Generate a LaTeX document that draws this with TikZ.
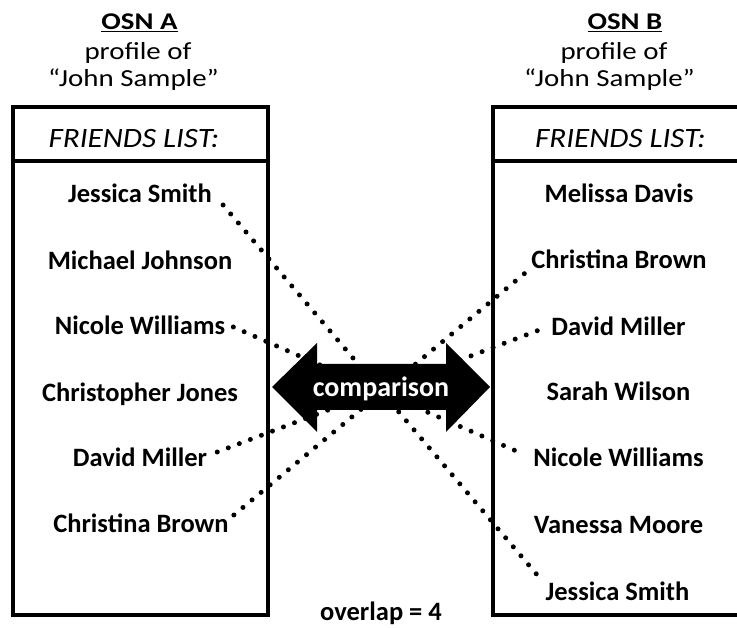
\documentclass[tikz,border=0pt]{standalone}
\usepackage{fontspec}
\usepackage{graphicx}
\setmainfont{Carlito}
\newcommand{\hstretch}[2]{\scalebox{#1}[1]{#2}}
\begin{document}
\begin{tikzpicture}[x=1pt,y=-1pt,
  nm/.style={font=\fontsize{26.5}{30}\selectfont\bfseries, inner sep=0pt, anchor=base},
  hd/.style={font=\fontsize{24.5}{28}\selectfont, inner sep=0pt, anchor=base},
  osn/.style={font=\fontsize{24}{28}\selectfont\bfseries, inner sep=0pt, anchor=base},
  fl/.style={font=\fontsize{28}{32}\selectfont\itshape, inner sep=0pt, anchor=base},
  frame/.style={line width=3.5pt},
  dots/.style={line width=5pt, line cap=round, dash pattern=on 0pt off 11.8pt}]
\useasboundingbox (0,0) rectangle (737,628);
\clip (0,0) rectangle (737,628);
% boxes
\draw[frame] (13,107) rectangle (268,615);
\draw[frame] (13,161) -- (268,161);
\draw[frame] (493,107) rectangle (746,615);
\draw[frame] (493,161) -- (746,161);
% headings
\node[osn] (ta) at (139.5,30) {\hstretch{1.2}{\underline{OSN A}}};
\node[hd] (pa) at (138,60) {\hstretch{1.18}{profile of}};
\node[hd] (ja) at (133.5,87) {\hstretch{1.18}{“John Sample”}};
\node[osn] (tb) at (625,30) {\hstretch{1.2}{\underline{OSN B}}};
\node[hd] (pb) at (614,60) {\hstretch{1.18}{profile of}};
\node[hd] (jb) at (609.5,87) {\hstretch{1.18}{“John Sample”}};
\node[fl] (fa) at (134,148) {\hstretch{1.11}{FRIENDS LIST:}};
\node[fl] (fb) at (620.5,148) {\hstretch{1.11}{FRIENDS LIST:}};
% left names
\node[nm] (lJS) at (140,203) {Jessica Smith};
\node[nm] (lMJ) at (140,270) {Michael Johnson};
\node[nm] (lNW) at (140,335) {Nicole Williams};
\node[nm] (lCJ) at (140,402) {Christopher Jones};
\node[nm] (lDM) at (140,467) {David Miller};
\node[nm] (lCB) at (141,532) {Christina Brown};
% right names
\node[nm] (rMD) at (619,203) {Melissa Davis};
\node[nm] (rCB) at (619,269) {Christina Brown};
\node[nm] (rDM) at (618.5,336) {David Miller};
\node[nm] (rSW) at (618.5,401) {Sarah Wilson};
\node[nm] (rNW) at (618.5,467) {Nicole Williams};
\node[nm] (rVM) at (618.5,533) {Vanessa Moore};
\node[nm] (rJS) at (617.5,600) {Jessica Smith};
\node[nm] (ov) at (381,620) {overlap = 4};
% dotted connectors
\coordinate (a1) at ([xshift=11pt,yshift=-2pt]lJS.base east);
\coordinate (b1) at ([xshift=-8pt,yshift=6pt]rJS.north west);
\coordinate (a2) at ([xshift=8pt,yshift=8pt]lNW.base east);
\coordinate (b2) at ([xshift=-17pt,yshift=16pt]rNW.base west);
\coordinate (a3) at ([xshift=10pt,yshift=15pt]lDM.base east);
\coordinate (b3) at ([xshift=-12pt,yshift=6pt]rDM.base west);
\coordinate (a4) at ([xshift=5pt,yshift=17pt]lCB.base east);
\coordinate (b4) at ([xshift=-6pt,yshift=-4pt]rCB.base west);
\draw[dots] (a1) -- (b1);
\draw[dots] (a2) -- (b2);
\draw[dots] (a3) -- (b3);
\draw[dots] (a4) -- (b4);
% comparison arrow
\fill[black] (272,387) -- (317,343) -- (317,364) -- (446,364) -- (446,343)
  -- (490,387) -- (446,432) -- (446,410) -- (317,410) -- (317,432) -- cycle;
\node[nm,font=\fontsize{28}{30}\selectfont\bfseries,text=white] (cmp) at (381,397) {comparison};
\end{tikzpicture}
\end{document}
